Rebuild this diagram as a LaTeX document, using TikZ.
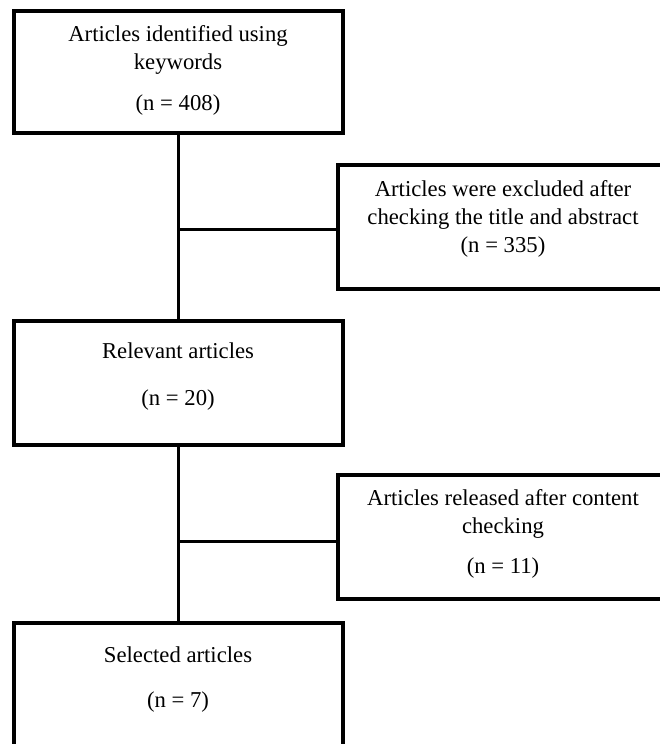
\documentclass[tikz,border=0pt]{standalone}
\usepackage{fontspec}
\setmainfont{Liberation Serif}
\usepackage{tikz}
\usetikzlibrary{positioning,calc}

\begin{document}
\begin{tikzpicture}[x=1pt,y=-1pt,
  box/.style={draw,line width=4pt,inner sep=0pt,minimum width=329pt,minimum height=124pt},
  txt/.style={align=center,inner sep=0pt,font=\fontsize{22.7}{28}\selectfont},
  link/.style={line width=3pt}]
  \useasboundingbox (0,0) rectangle (660,744);
  % left column: the main screening flow
  \node[box,minimum height=122pt] (idbox) at (178.5,72) {};
  \node[box] (relbox) at (178.5,383) {};
  \node[box] (selbox) at (178.5,685) {};
  % right column: articles dropped on the way (cut by the page edge)
  \node[box,minimum width=330pt] (exbox) at (503,227) {};
  \node[box,minimum width=330pt] (dropbox) at (503,537) {};
  % box texts, sitting a little above the box centres
  \node[txt] (idtxt) at (178,70) {Articles identified using\\keywords\\[13pt](n = 408)};
  \node[txt] (extxt) at (503,219) {Articles were excluded after\\checking the title and abstract\\(n = 335)};
  \node[txt] (reltxt) at (178,377) {Relevant articles\\[19pt](n = 20)};
  \node[txt] (droptxt) at (503,534) {Articles released after content\\checking\\[12pt](n = 11)};
  \node[txt] (seltxt) at (178,680) {Selected articles\\[17pt](n = 7)};
  % trunk and side branches
  \draw[link] (idbox.south) -- (relbox.north);
  \draw[link] (relbox.south) -- (selbox.north);
  \draw[link] ([yshift=-2pt]exbox.west) -- ([yshift=-2pt]exbox.west -| idbox.south);
  \draw[link] ([yshift=-4pt]dropbox.west) -- ([yshift=-4pt]dropbox.west -| relbox.south);
\end{tikzpicture}
\end{document}
